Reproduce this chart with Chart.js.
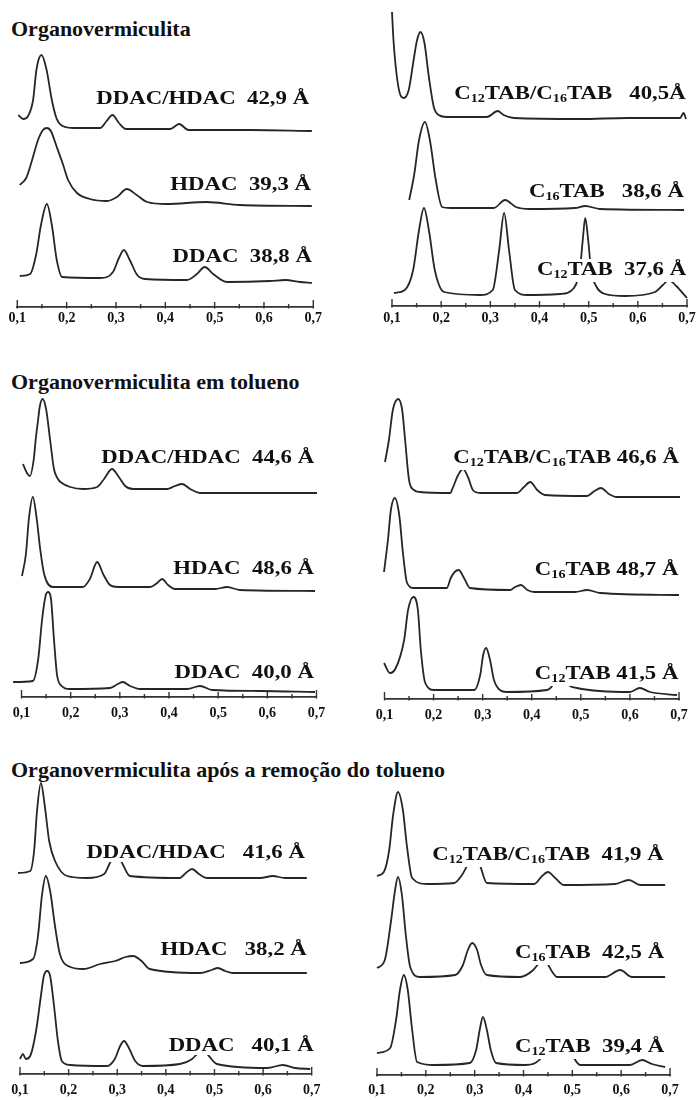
<!DOCTYPE html>
<html lang="pt">
<head>
<meta charset="utf-8">
<title>Organovermiculita – difratogramas</title>
<script src="https://cdn.jsdelivr.net/npm/chart.js@4.4.1/dist/chart.umd.min.js"></script>
<style>
  html, body { margin: 0; padding: 0; background: #fff; }
  #page { position: relative; width: 697px; height: 1100px; overflow: hidden; background: #fff; }
  #page canvas { position: absolute; }
  .title {
    position: absolute; left: 11px; white-space: pre; color: #111;
    font: bold 22px/22px "Liberation Serif", "Times New Roman", serif;
  }
  .lbl {
    position: absolute; white-space: pre; color: #111; background: #fff; z-index: 2;
    font: bold 19px/20px "Liberation Serif", "Times New Roman", serif;
    padding: 0 1px 0 2px; transform-origin: 100% 50%; transform: scaleX(1.2);
  }
  .lbl sub { font-size: 0.62em; vertical-align: baseline; position: relative; top: 0.3em; }
</style>
</head>
<body>
<div id="page"></div>
<script>
// x axis (0,1 … 0,7) and its labels
const majorTicks = [0.1, 0.2, 0.3, 0.4, 0.5, 0.6, 0.7];
const tickLabels = ['0,1', '0,2', '0,3', '0,4', '0,5', '0,6', '0,7'];

// Section titles
const sectionTitles = [
  'Organovermiculita',
  'Organovermiculita em tolueno',
  'Organovermiculita após a remoção do tolueno'
];

// Trace labels (sample and basal spacing)
const orgDacLabels = ['DDAC/HDAC  42,9 Å', 'HDAC  39,3 Å', 'DDAC  38,8 Å'];
const orgTabLabels = ['C<sub>12</sub>TAB/C<sub>16</sub>TAB   40,5Å', 'C<sub>16</sub>TAB   38,6 Å', 'C<sub>12</sub>TAB  37,6 Å'];
const tolDacLabels = ['DDAC/HDAC  44,6 Å', 'HDAC  48,6 Å', 'DDAC  40,0 Å'];
const tolTabLabels = ['C<sub>12</sub>TAB/C<sub>16</sub>TAB 46,6 Å', 'C<sub>16</sub>TAB 48,7 Å', 'C<sub>12</sub>TAB 41,5 Å'];
const remDacLabels = ['DDAC/HDAC   41,6 Å', 'HDAC   38,2 Å', 'DDAC   40,1 Å'];
const remTabLabels = ['C<sub>12</sub>TAB/C<sub>16</sub>TAB  41,9 Å', 'C<sub>16</sub>TAB  42,5 Å', 'C<sub>12</sub>TAB  39,4 Å'];

// Diffractograms: [x, intensity (a.u., stacked)]
// Organovermiculita
const orgDdacHdac = [[0.102,192],[0.112,188],[0.122,191],[0.132,207],[0.139,238],[0.149,252],[0.159,238],[0.170,207],[0.180,188],[0.192,181],[0.215,179],[0.268,179],[0.281,186],[0.293,192],[0.306,184],[0.320,178],[0.410,178],[0.428,183],[0.447,177],[0.572,177],[0.697,176]];
const orgHdac = [[0.105,122],[0.118,129],[0.130,147],[0.142,167],[0.152,177],[0.160,179],[0.168,176],[0.180,160],[0.193,142],[0.203,127],[0.221,114],[0.247,108],[0.282,106],[0.302,110],[0.322,118],[0.342,112],[0.363,105],[0.403,103],[0.484,105],[0.551,102],[0.697,101]];
const orgDdac = [[0.105,31],[0.126,33],[0.138,52],[0.148,82],[0.160,103],[0.170,82],[0.180,47],[0.191,30],[0.268,29],[0.294,35],[0.306,49],[0.316,57],[0.328,47],[0.343,32],[0.359,28],[0.444,27],[0.464,33],[0.480,40],[0.497,33],[0.525,25],[0.612,26],[0.643,27],[0.673,25],[0.697,24]];
const orgC12C16 = [[0.100,294],[0.103,266],[0.110,229],[0.117,211],[0.124,208],[0.134,216],[0.144,246],[0.151,266],[0.158,274],[0.166,263],[0.175,229],[0.185,199],[0.195,191],[0.212,189],[0.293,189],[0.315,195],[0.327,191],[0.348,188],[0.482,187],[0.578,188],[0.686,188],[0.693,193],[0.698,187]];
const orgC16 = [[0.135,106],[0.145,131],[0.155,166],[0.167,184],[0.177,166],[0.189,126],[0.202,99],[0.218,98],[0.307,98],[0.330,106],[0.352,99],[0.381,97],[0.472,98],[0.493,100],[0.523,97],[0.694,96]];
const orgC12 = [[0.104,13],[0.126,16],[0.143,36],[0.155,76],[0.165,98],[0.175,76],[0.187,36],[0.206,14],[0.279,11],[0.305,16],[0.318,56],[0.328,93],[0.338,56],[0.350,16],[0.375,11],[0.442,12],[0.470,18],[0.482,36],[0.488,66],[0.493,88],[0.499,66],[0.505,36],[0.515,20],[0.533,12],[0.574,10],[0.635,14],[0.651,21],[0.663,26],[0.678,20],[0.700,8]];

// Organovermiculita em tolueno
const tolDdacHdac = [[0.103,233],[0.111,224],[0.117,221],[0.125,238],[0.129,258],[0.134,278],[0.137,290],[0.143,298],[0.150,288],[0.158,258],[0.166,228],[0.174,218],[0.182,214],[0.199,210],[0.225,208],[0.254,210],[0.268,218],[0.284,228],[0.298,220],[0.311,211],[0.327,208],[0.396,208],[0.412,211],[0.427,213],[0.443,208],[0.463,204],[0.585,204],[0.701,204]];
const tolHdac = [[0.101,121],[0.109,143],[0.115,178],[0.123,200],[0.131,178],[0.138,148],[0.146,123],[0.164,110],[0.225,110],[0.239,118],[0.254,135],[0.266,123],[0.280,112],[0.296,110],[0.362,110],[0.376,114],[0.386,118],[0.398,112],[0.412,108],[0.494,108],[0.518,110],[0.544,107],[0.697,106]];
const tolDdac = [[0.083,15],[0.123,16],[0.134,38],[0.142,78],[0.150,103],[0.154,105],[0.160,98],[0.166,58],[0.172,23],[0.178,13],[0.199,8],[0.280,9],[0.296,13],[0.306,15],[0.321,11],[0.341,8],[0.437,8],[0.463,11],[0.488,7],[0.585,6],[0.697,5]];
const tolC12C16 = [[0.101,237],[0.109,259],[0.117,289],[0.128,300],[0.136,289],[0.142,259],[0.150,219],[0.160,209],[0.172,207],[0.234,206],[0.239,211],[0.250,224],[0.260,230],[0.270,222],[0.280,209],[0.295,206],[0.370,206],[0.384,212],[0.397,217],[0.411,209],[0.427,204],[0.512,203],[0.528,208],[0.541,211],[0.557,205],[0.573,202],[0.702,202]];
const tolC16 = [[0.099,127],[0.107,159],[0.113,189],[0.121,201],[0.130,184],[0.138,144],[0.146,116],[0.160,111],[0.227,111],[0.235,121],[0.243,127],[0.251,129],[0.262,121],[0.274,111],[0.356,109],[0.366,112],[0.378,114],[0.391,109],[0.405,107],[0.488,107],[0.513,109],[0.539,106],[0.700,104]];
const tolC12 = [[0.099,36],[0.111,26],[0.123,31],[0.140,59],[0.148,89],[0.159,102],[0.168,89],[0.174,49],[0.183,16],[0.201,9],[0.283,9],[0.295,24],[0.301,44],[0.307,51],[0.315,39],[0.323,19],[0.335,9],[0.349,7],[0.431,9],[0.445,16],[0.455,29],[0.460,33],[0.466,27],[0.472,16],[0.492,11],[0.600,7],[0.620,11],[0.641,7],[0.696,4]];

// Organovermiculita após a remoção do tolueno
const remDdacHdac = [[0.096,201],[0.121,203],[0.129,223],[0.135,263],[0.143,291],[0.151,268],[0.160,233],[0.172,213],[0.197,198],[0.238,196],[0.273,200],[0.285,211],[0.298,221],[0.310,211],[0.326,198],[0.429,196],[0.441,201],[0.454,205],[0.468,200],[0.485,196],[0.594,196],[0.620,198],[0.645,196],[0.690,196]];
const remHdac = [[0.100,111],[0.127,115],[0.137,138],[0.145,178],[0.153,198],[0.162,183],[0.172,148],[0.182,120],[0.199,108],[0.230,105],[0.265,110],[0.296,113],[0.317,117],[0.333,118],[0.350,113],[0.367,105],[0.470,101],[0.494,104],[0.507,106],[0.522,103],[0.538,101],[0.690,101]];
const remDdac = [[0.100,15],[0.106,20],[0.112,15],[0.121,18],[0.133,43],[0.143,78],[0.149,98],[0.156,103],[0.162,98],[0.170,68],[0.178,33],[0.186,13],[0.203,9],[0.279,8],[0.295,15],[0.306,28],[0.314,33],[0.324,26],[0.337,13],[0.353,8],[0.429,10],[0.454,15],[0.464,20],[0.474,25],[0.485,20],[0.505,10],[0.608,6],[0.641,9],[0.666,6],[0.697,5]];
const remC12C16 = [[0.100,199],[0.114,203],[0.125,225],[0.133,260],[0.143,283],[0.153,265],[0.161,230],[0.172,197],[0.202,191],[0.258,192],[0.274,200],[0.288,212],[0.299,217],[0.309,212],[0.325,192],[0.422,191],[0.438,199],[0.450,203],[0.465,197],[0.483,190],[0.587,191],[0.616,195],[0.639,190],[0.690,190]];
const remC16 = [[0.100,107],[0.116,115],[0.129,155],[0.137,185],[0.143,198],[0.151,180],[0.159,140],[0.168,108],[0.188,98],[0.260,100],[0.276,110],[0.286,125],[0.295,132],[0.305,125],[0.313,110],[0.325,100],[0.393,98],[0.420,105],[0.432,112],[0.440,115],[0.448,112],[0.459,103],[0.469,98],[0.567,98],[0.598,105],[0.622,98],[0.690,98]];
const remC12 = [[0.100,22],[0.127,27],[0.139,55],[0.147,85],[0.155,100],[0.163,85],[0.172,45],[0.182,13],[0.217,10],[0.290,12],[0.303,25],[0.311,47],[0.317,58],[0.325,45],[0.333,25],[0.344,12],[0.403,10],[0.424,12],[0.438,18],[0.454,30],[0.469,37],[0.485,30],[0.497,22],[0.516,10],[0.618,10],[0.643,15],[0.663,11],[0.690,8]];

// Page layout (pixels)
const titleBaselines = [36, 389, 777];
const panels = [
  { x0: 17.3, x1: 313.3, axisY: 307,  top: 5,   tickPad: 3, series: [orgDdacHdac, orgHdac, orgDdac], labels: orgDacLabels, labelPos: [[310,104],[312,190],[313,262]] },
  { x0: 392,  x1: 687,   axisY: 306,  top: 5,   tickPad: 4, series: [orgC12C16, orgC16, orgC12],    labels: orgTabLabels, labelPos: [[687,99],[685,197],[687,275]] },
  { x0: 21.5, x1: 316.5, axisY: 697,  top: 379, tickPad: 8, series: [tolDdacHdac, tolHdac, tolDdac], labels: tolDacLabels, labelPos: [[315,463],[315,574],[315,678]] },
  { x0: 384.5,x1: 679,   axisY: 699,  top: 380, tickPad: 8, series: [tolC12C16, tolC16, tolC12],    labels: tolTabLabels, labelPos: [[680,463],[680,575],[680,679]] },
  { x0: 20,   x1: 311.7, axisY: 1074, top: 770, tickPad: 8, series: [remDdacHdac, remHdac, remDdac], labels: remDacLabels, labelPos: [[306,858],[308,955],[315,1051]] },
  { x0: 377,  x1: 670,   axisY: 1075, top: 770, tickPad: 7, series: [remC12C16, remC16, remC12],    labels: remTabLabels, labelPos: [[665,860],[665,958],[665,1052]] }
];

const PAGE_W = 697;
const AXIS_H = 32;
const SIDE = 20;
const page = document.getElementById('page');

// Section titles
sectionTitles.forEach((t, i) => {
  const d = document.createElement('div');
  d.className = 'title';
  d.textContent = t;
  d.style.top = (titleBaselines[i] - 18.4) + 'px';
  page.appendChild(d);
});

// Small tick marks on the x axis, rising above the axis line
const upTicks = {
  id: 'upTicks',
  afterDraw(chart) {
    const sx = chart.scales.x;
    const ctx = chart.ctx;
    const y = chart.chartArea.bottom;
    ctx.save();
    ctx.strokeStyle = '#333';
    ctx.lineWidth = 1.4;
    sx.ticks.forEach((t, i) => {
      const px = sx.getPixelForValue(t.value);
      const major = majorTicks.some(m => Math.abs(m - t.value) < 1e-6);
      const end = i === 0 || i === sx.ticks.length - 1;
      const len = end ? 7 : (major ? 5 : 3);
      ctx.beginPath();
      ctx.moveTo(px, y + 1.5);
      ctx.lineTo(px, y - len);
      ctx.stroke();
    });
    ctx.restore();
  }
};

panels.forEach((p) => {
  const left = Math.floor(p.x0) - SIDE;
  const width = Math.ceil(p.x1) + SIDE - left;
  const plotH = p.axisY - p.top;
  const height = plotH + AXIS_H;

  const canvas = document.createElement('canvas');
  canvas.width = width;
  canvas.height = height;
  canvas.style.left = left + 'px';
  canvas.style.top = p.top + 'px';
  canvas.style.width = width + 'px';
  canvas.style.height = height + 'px';
  page.appendChild(canvas);

  new Chart(canvas, {
    type: 'line',
    data: {
      datasets: p.series.map((s, k) => ({
        label: p.labels[k].replace(/<[^>]+>/g, ''),
        data: s,
        borderColor: '#262626',
        borderWidth: 1.8,
        pointRadius: 0,
        fill: false,
        cubicInterpolationMode: 'monotone',
        clip: false
      }))
    },
    options: {
      responsive: false,
      devicePixelRatio: 1,
      animation: false,
      events: [],
      layout: { padding: { left: p.x0 - left, right: left + width - p.x1, top: 0, bottom: 0 } },
      plugins: { legend: { display: false }, tooltip: { enabled: false } },
      scales: {
        x: {
          type: 'linear',
          min: 0.1,
          max: 0.7,
          afterFit(scale) { scale.height = AXIS_H; },
          grid: { display: false, drawTicks: false },
          border: { display: true, color: '#333', width: 1.7 },
          ticks: {
            stepSize: 0.05,
            autoSkip: false,
            maxRotation: 0,
            padding: p.tickPad,
            color: '#111',
            font: { family: 'Liberation Serif', size: 14, weight: 'bold' },
            callback(v) {
              const i = majorTicks.findIndex(m => Math.abs(m - v) < 1e-6);
              return i >= 0 ? tickLabels[i] : '';
            }
          }
        },
        y: { display: false, min: 0, max: plotH }
      }
    },
    plugins: [upTicks]
  });

  // Trace labels on a white ground
  p.labels.forEach((html, k) => {
    const [rx, base] = p.labelPos[k];
    const d = document.createElement('div');
    d.className = 'lbl';
    d.innerHTML = html;
    d.style.right = (PAGE_W - rx) + 'px';
    d.style.top = (base - 16.4) + 'px';
    page.appendChild(d);
  });
});
</script>
</body>
</html>
